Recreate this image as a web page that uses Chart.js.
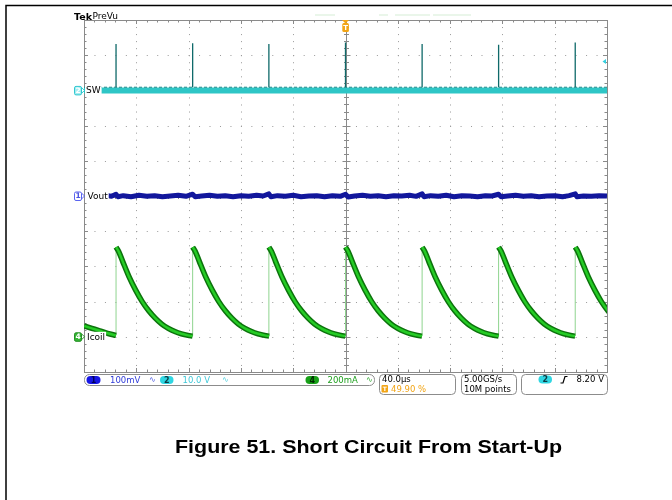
<!DOCTYPE html>
<html>
<head>
<meta charset="utf-8">
<script src="https://cdn.jsdelivr.net/npm/chart.js@4.4.1/dist/chart.umd.min.js"></script>
<style>
  html, body { margin: 0; padding: 0; background: #fff; }
</style>
</head>
<body>
<canvas id="scope" width="672" height="500"></canvas>
<script>
// 40 us/div, 10 divisions
const timeTicks = [0, 40, 80, 120, 160, 200, 240, 280, 320, 360, 400];
const divTicks = [-5, -4, -3, -2, -1, 0, 1, 2, 3, 4, 5];

// SW (ch2, 10 V/div): switching spikes
const spikeTimes = [24.5, 83.1, 141.4, 200, 258.6, 317.1, 375.7];
const swPeakV = [13.2, 13.4, 13.2, 13.6, 13.2, 13.0, 13.6];

// Icoil (ch4, 200 mA/div): one decay after each spike
const decayOffset = [0, 2, 5, 10, 15, 20, 25, 30, 35, 40, 45, 50, 55, 58.5];
const decayMA = [510, 485, 430, 340, 265, 200, 148, 106, 72, 48, 30, 17, 8, 4];
const leadT = [0, 6, 12, 18, 24.5];
const leadMA = [62, 48, 34, 20, 8];

// Vout (ch1, 100 mV/div)
const voutT = [
  17, 21, 24.5,
  26, 30, 36, 42, 48, 54, 60, 66, 72, 78, 83.1,
  85, 90, 96, 102, 108, 114, 120, 126, 132, 137, 141.4,
  143, 148, 154, 160, 166, 172, 178, 184, 190, 196, 200,
  202, 207, 213, 219, 225, 231, 237, 243, 249, 254, 258.6,
  260, 265, 271, 277, 283, 289, 295, 301, 307, 312, 317.1,
  319, 324, 330, 336, 342, 348, 354, 360, 366, 371, 375.7,
  377, 382, 388, 394, 400
];
const voutMV = [
  2, -1, 5,
  -2, 1, -2, 2, -1, 1, -2, 0, 2, -1, 5,
  -2, 0, 2, -1, 1, -2, 1, -1, 2, 0, 6,
  -2, 1, -1, 2, -2, 0, 1, -2, 1, -1, 5,
  -3, 0, 2, -1, 1, -2, 1, 0, 2, -1, 6,
  -2, 1, -1, 2, -2, 1, 0, -2, 1, 0, 5,
  -2, 0, 2, -1, 1, -2, 0, 1, -2, 1, 6,
  -2, 0, -1, 1, 0
];

const FONT = '"DejaVu Sans", sans-serif';

// build point lists
const icoilDecay = [];
leadT.forEach((t, i) => icoilDecay.push({ x: t, y: leadMA[i] }));
spikeTimes.forEach(t0 => {
  icoilDecay.push({ x: t0, y: null });
  decayOffset.forEach((d, j) => icoilDecay.push({ x: t0 + d, y: decayMA[j] }));
});
const icoilRise = [];
spikeTimes.forEach((t0, i) => {
  icoilRise.push({ x: t0, y: i === 0 ? leadMA[leadMA.length - 1] : decayMA[decayMA.length - 1] });
  icoilRise.push({ x: t0, y: decayMA[0] });
  icoilRise.push({ x: t0, y: null });
});
const swSpikes = [];
spikeTimes.forEach((t0, i) => {
  swSpikes.push({ x: t0, y: 0.9 });
  swSpikes.push({ x: t0, y: swPeakV[i] });
  swSpikes.push({ x: t0, y: null });
});
const vout = voutT.map((t, i) => ({ x: t, y: voutMV[i] }));

function rr(ctx, x, y, w, h, r) {
  ctx.beginPath();
  ctx.moveTo(x + r, y);
  ctx.arcTo(x + w, y, x + w, y + h, r);
  ctx.arcTo(x + w, y + h, x, y + h, r);
  ctx.arcTo(x, y + h, x, y, r);
  ctx.arcTo(x, y, x + w, y, r);
  ctx.closePath();
}

function pill(ctx, x, y, w, h, fill, txt, txtColor) {
  rr(ctx, x, y, w, h, h / 2);
  ctx.fillStyle = fill;
  ctx.fill();
  ctx.fillStyle = txtColor;
  ctx.font = 'bold 8px ' + FONT;
  ctx.textAlign = 'center';
  ctx.textBaseline = 'middle';
  ctx.fillText(txt, x + w / 2, y + h / 2 + 0.5);
  ctx.textAlign = 'left';
}

const scopeDecor = {
  id: 'scopeDecor',
  beforeDraw(chart) {
    const ctx = chart.ctx;
    ctx.save();
    ctx.strokeStyle = '#000';
    ctx.lineWidth = 1.5;
    ctx.beginPath();
    ctx.moveTo(6, 500);
    ctx.lineTo(6, 5.5);
    ctx.lineTo(672, 5.5);
    ctx.stroke();
    // faint preview bars
    ctx.fillStyle = '#d6eed6';
    [[315, 335], [379, 388], [395, 430], [433, 471]].forEach(s => ctx.fillRect(s[0], 14.5, s[1] - s[0], 1));
    ctx.restore();
  },
  beforeDatasetsDraw(chart) {
    const ctx = chart.ctx;
    const a = chart.chartArea;
    const xs = chart.scales.x, ys = chart.scales.yDiv;
    const w = a.right - a.left, h = a.bottom - a.top;
    ctx.save();
    // dotted grid
    ctx.fillStyle = '#9a9a9a';
    timeTicks.forEach((t, i) => {
      if (i === 0 || i === 5 || i === 10) return;
      const x = Math.round(xs.getPixelForValue(t));
      for (let k = 0; k <= 50; k++) ctx.fillRect(x, a.top + k * h / 50, 1, 1);
    });
    divTicks.forEach((d, i) => {
      if (i === 0 || i === 5 || i === 10) return;
      const y = Math.round(ys.getPixelForValue(d));
      for (let k = 0; k <= 50; k++) ctx.fillRect(a.left + k * w / 50, y, 1, 1);
    });
    // border, centre cross
    ctx.strokeStyle = '#8a8a8a';
    ctx.lineWidth = 1;
    ctx.strokeRect(a.left + 0.5, a.top + 0.5, w, h);
    const cx = Math.round(xs.getPixelForValue(200)) + 0.5;
    const cy = Math.round(ys.getPixelForValue(0)) + 0.5;
    ctx.beginPath();
    ctx.moveTo(cx, a.top); ctx.lineTo(cx, a.bottom);
    ctx.moveTo(a.left, cy); ctx.lineTo(a.right, cy);
    // minor ticks
    for (let k = 1; k < 50; k++) {
      const x = Math.round(a.left + k * w / 50) + 0.5;
      const L = k % 5 === 0 ? 4 : 2.5;
      ctx.moveTo(x, a.top); ctx.lineTo(x, a.top + L);
      ctx.moveTo(x, a.bottom); ctx.lineTo(x, a.bottom - L);
      ctx.moveTo(x, cy - L); ctx.lineTo(x, cy + L);
      const y = Math.round(a.top + k * h / 50) + 0.5;
      ctx.moveTo(a.left, y); ctx.lineTo(a.left + L, y);
      ctx.moveTo(a.right, y); ctx.lineTo(a.right - L, y);
      ctx.moveTo(cx - L, y); ctx.lineTo(cx + L, y);
    }
    ctx.stroke();
    ctx.restore();
  },
  afterDatasetsDraw(chart) {
    const ctx = chart.ctx;
    const a = chart.chartArea;
    ctx.save();
    // trace labels
    const labels = [
      { text: 'SW', y: chart.scales.ySW.getPixelForValue(0), x: 86 },
      { text: 'Vout', y: chart.scales.yVout.getPixelForValue(0), x: 87.5 },
      { text: 'Icoil', y: chart.scales.yIcoil.getPixelForValue(0), x: 87 }
    ];
    ctx.font = '9px ' + FONT;
    ctx.textBaseline = 'middle';
    labels.forEach(l => {
      const tw = ctx.measureText(l.text).width;
      ctx.fillStyle = '#fff';
      ctx.fillRect(a.left + 1, l.y - 5, l.x - a.left + tw, 10);
      ctx.fillStyle = '#000';
      ctx.fillText(l.text, l.x, l.y + 0.5);
    });
    // channel markers
    const marks = [
      { n: '2', y: labels[0].y, stroke: '#30c8d0', fill: '#a6ecf0', tc: '#fff' },
      { n: '1', y: labels[1].y, stroke: '#5a64f0', fill: '#fff', tc: '#4a50e0' },
      { n: '4', y: labels[2].y, stroke: '#239023', fill: '#35b535', tc: '#fff' }
    ];
    marks.forEach(m => {
      rr(ctx, 74.5, m.y - 4, 7, 8.5, 1.5);
      ctx.fillStyle = m.fill; ctx.fill();
      ctx.strokeStyle = m.stroke; ctx.lineWidth = 1; ctx.stroke();
      ctx.beginPath();
      ctx.moveTo(81.5, m.y - 3); ctx.lineTo(84.5, m.y); ctx.lineTo(81.5, m.y + 3);
      ctx.stroke();
      ctx.fillStyle = m.tc;
      ctx.font = 'bold 7.5px ' + FONT;
      ctx.textAlign = 'center';
      ctx.fillText(m.n, 78, m.y + 0.5);
      ctx.textAlign = 'left';
    });
    // trigger position marker
    const tx = chart.scales.x.getPixelForValue(200);
    ctx.fillStyle = '#f2a516';
    ctx.beginPath();
    ctx.moveTo(tx - 3.5, a.top); ctx.lineTo(tx + 3.5, a.top); ctx.lineTo(tx, a.top + 3.5); ctx.closePath();
    ctx.fill();
    rr(ctx, tx - 3.2, a.top + 3, 6.6, 9, 1.5);
    ctx.fill();
    ctx.fillStyle = '#fff';
    ctx.font = 'bold 7px ' + FONT;
    ctx.textAlign = 'center';
    ctx.fillText('T', tx + 0.2, a.top + 8);
    ctx.textAlign = 'left';
    // trigger level arrow (8.20 V on ch2)
    const ly = chart.scales.ySW.getPixelForValue(8.2);
    ctx.fillStyle = '#34d0e0';
    ctx.beginPath();
    ctx.moveTo(a.right - 4.5, ly); ctx.lineTo(a.right - 1, ly - 2.5); ctx.lineTo(a.right - 1, ly + 2.5); ctx.closePath();
    ctx.fill();
    ctx.restore();
  },
  afterDraw(chart) {
    const ctx = chart.ctx;
    ctx.save();
    // header
    ctx.fillStyle = '#000';
    ctx.textBaseline = 'alphabetic';
    ctx.font = 'bold 9.5px ' + FONT;
    ctx.fillText('Tek', 74, 20);
    ctx.font = '9px ' + FONT;
    ctx.fillText('PreVu', 92.5, 19);

    // status boxes
    ctx.strokeStyle = '#8c8c8c';
    ctx.lineWidth = 1;
    rr(ctx, 84.5, 374.5, 290, 11, 5); ctx.stroke();
    rr(ctx, 379.5, 374.5, 76, 20, 4); ctx.stroke();
    rr(ctx, 461.5, 374.5, 55, 20, 4); ctx.stroke();
    rr(ctx, 521.5, 374.5, 86, 20, 4); ctx.stroke();

    pill(ctx, 86.5, 376, 14, 8, '#1616e4', '1', '#00005a');
    pill(ctx, 160, 376, 13.5, 8, '#2fd6e2', '2', '#0b3a44');
    pill(ctx, 305.5, 376, 13.5, 8, '#18a018', '4', '#002a00');
    pill(ctx, 538.5, 375.5, 13.5, 8, '#2fd6e2', '2', '#0b3a44');

    ctx.textBaseline = 'middle';
    ctx.font = '8.5px ' + FONT;
    ctx.fillStyle = '#2e3ad8'; ctx.fillText('100mV', 110, 380.5);
    ctx.fillStyle = '#40c8d8'; ctx.fillText('10.0 V', 182.5, 380.5);
    ctx.fillStyle = '#1fa01f'; ctx.fillText('200mA', 327.5, 380.5);
    ctx.font = '8px ' + FONT;
    ctx.fillStyle = '#4a58e0'; ctx.fillText('\u223F', 149, 380);
    ctx.fillStyle = '#50d0e0'; ctx.fillText('\u223F', 222, 380);
    ctx.fillStyle = '#30a830'; ctx.fillText('\u223F', 366, 380);

    ctx.font = '8.5px ' + FONT;
    ctx.fillStyle = '#000';
    ctx.fillText('40.0\u00B5s', 382, 380);
    ctx.fillText('5.00GS/s', 464, 380);
    ctx.fillText('10M points', 464, 389.5);
    ctx.fillText('8.20 V', 576.5, 380);
    ctx.fillStyle = '#f2a516';
    rr(ctx, 381.5, 385, 6.5, 7.5, 1); ctx.fill();
    ctx.fillText('49.90 %', 391, 389.5);
    ctx.fillStyle = '#fff';
    ctx.font = 'bold 6px ' + FONT;
    ctx.textAlign = 'center';
    ctx.fillText('T', 384.8, 389);
    ctx.textAlign = 'left';
    // rising edge symbol
    ctx.strokeStyle = '#000';
    ctx.lineWidth = 1.2;
    ctx.beginPath();
    ctx.moveTo(560.5, 383); ctx.lineTo(563, 383); ctx.lineTo(565, 376.5); ctx.lineTo(567.5, 376.5);
    ctx.stroke();

    // caption, stretched to the width it has in the figure
    const caption = 'Figure 51. Short Circuit From Start-Up';
    ctx.fillStyle = '#000';
    ctx.font = 'bold 18.5px "Liberation Sans", Arial, sans-serif';
    ctx.textAlign = 'center';
    ctx.textBaseline = 'alphabetic';
    const cw = ctx.measureText(caption).width;
    ctx.translate(368.5, 453);
    ctx.scale(387 / cw, 1);
    ctx.fillText(caption, 0, 0);
    ctx.restore();
  }
};

const base = { pointRadius: 0, fill: false, borderJoinStyle: 'round', spanGaps: false };

new Chart(document.getElementById('scope'), {
  type: 'line',
  data: {
    datasets: [
      { ...base, label: 'Icoil', data: icoilDecay, yAxisID: 'yIcoil', borderColor: '#25cc25', borderWidth: 2.5, cubicInterpolationMode: 'monotone', order: 1 },
      { ...base, label: 'Icoil band', data: icoilDecay, yAxisID: 'yIcoil', borderColor: '#0c730c', borderWidth: 5.5, cubicInterpolationMode: 'monotone', order: 2 },
      { ...base, label: 'Icoil edge', data: icoilRise, yAxisID: 'yIcoil', borderColor: '#8fd48f', borderWidth: 1, order: 3 },
      { ...base, label: 'Vout', data: vout, yAxisID: 'yVout', borderColor: '#12179c', borderWidth: 5, order: 4 },
      { ...base, label: 'SW spikes', data: swSpikes, yAxisID: 'ySW', borderColor: '#0f6a6a', borderWidth: 1.3, order: 5 },
      { ...base, label: 'SW edge', data: [{ x: 0, y: 0.9 }, { x: 400, y: 0.9 }], yAxisID: 'ySW', borderColor: '#1b8a8a', borderWidth: 1, borderDash: [3, 2], order: 6 },
      { ...base, label: 'SW', data: [{ x: 0, y: 0 }, { x: 400, y: 0 }], yAxisID: 'ySW', borderColor: '#2ec6c6', borderWidth: 6, order: 7 }
    ]
  },
  options: {
    responsive: false,
    animation: false,
    layout: { padding: { left: 84, top: 20, right: 65, bottom: 128 } },
    plugins: { legend: { display: false }, tooltip: { enabled: false } },
    scales: {
      x: { type: 'linear', min: 0, max: 400, display: false },
      yDiv: { type: 'linear', min: -5, max: 5, display: false },
      ySW: { type: 'linear', min: -80, max: 20, display: false },
      yVout: { type: 'linear', min: -500, max: 500, display: false },
      yIcoil: { type: 'linear', min: -200, max: 1800, display: false }
    }
  },
  plugins: [scopeDecor]
});
</script>
</body>
</html>
